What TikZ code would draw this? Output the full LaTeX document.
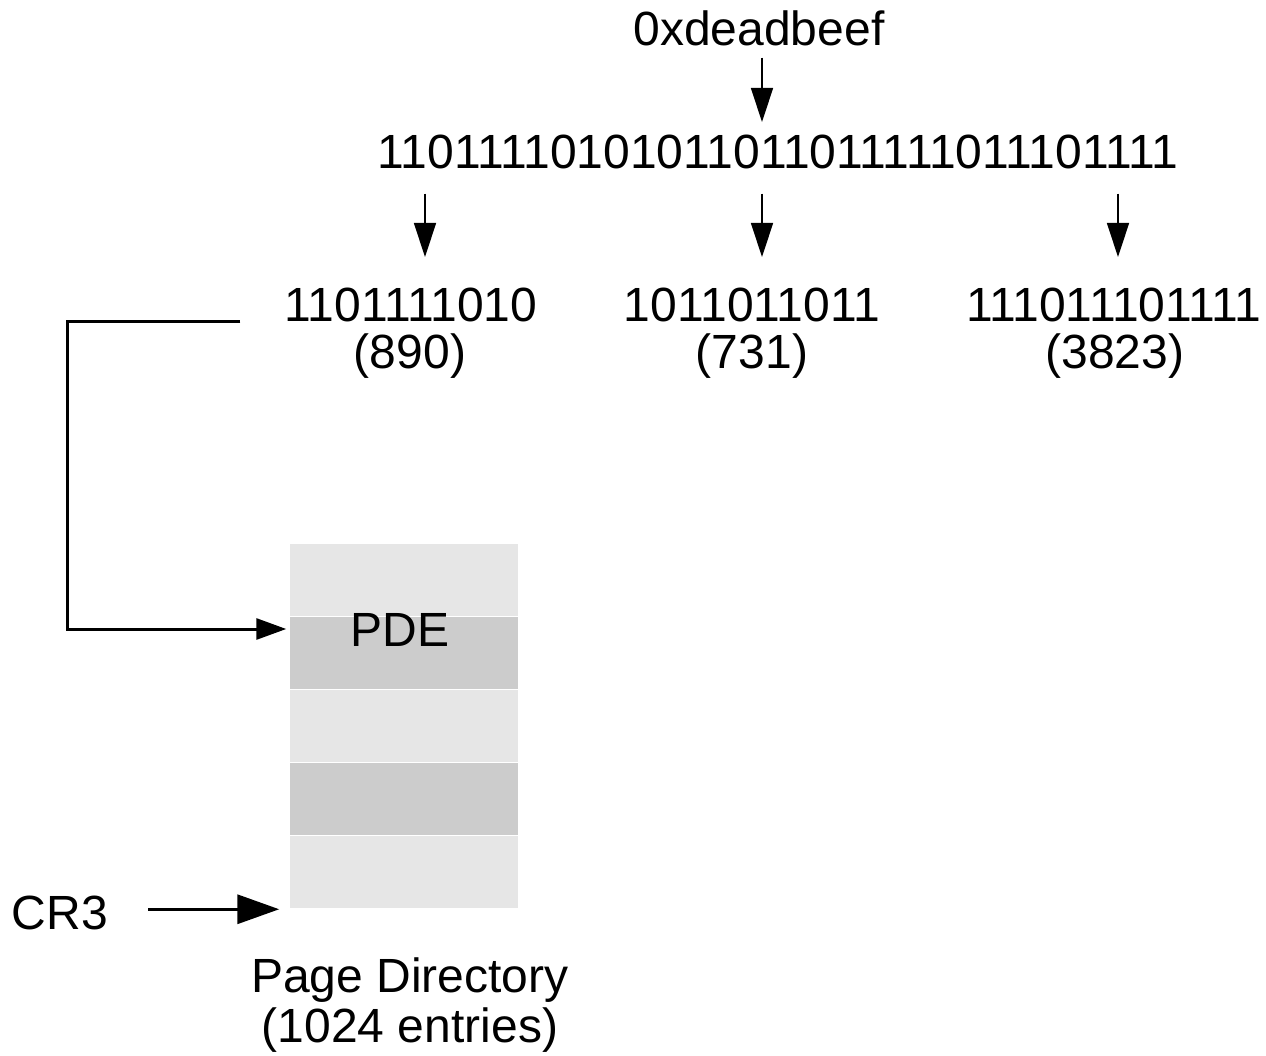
\documentclass[tikz,border=0pt]{standalone}
\usepackage{fontspec}
\setmainfont{Liberation Sans}
\usetikzlibrary{arrows.meta}
\definecolor{rowlight}{HTML}{E6E6E6}
\definecolor{rowdark}{HTML}{CCCCCC}
\begin{document}
\begin{tikzpicture}[x=1pt,y=-1pt,
  every node/.style={font=\fontsize{48}{50}\selectfont, inner sep=0pt},
  lbl/.style={anchor=base},
  thinarrow/.style={line width=1.4pt, -{Triangle[length=34pt,width=22pt]}},
  thickarrow/.style={line width=3pt, -{Triangle[length=30pt,width=21pt]}},
  bigarrow/.style={line width=3.5pt, -{Triangle[length=42pt,width=29pt]}},
  entry/.style={draw=white, line width=1.5pt, minimum width=230pt, minimum height=73pt},
  lightrow/.style={entry, fill=rowlight},
  darkrow/.style={entry, fill=rowdark}]
\useasboundingbox (0,0) rectangle (1266,1056);

% virtual address and its bits
\node[lbl] (hex) at (759,46) {0xdeadbeef};
\node[lbl] (bin) at (778,169) {11011110101011011011111011101111};

% the three fields of the address
\node[lbl] (dirbits) at (411,322) {1101111010};
\node[lbl] (dirnum)  at (410,369) {(890)};
\node[lbl] (tblbits) at (752,322) {1011011011};
\node[lbl] (tblnum)  at (752,369) {(731)};
\node[lbl] (offbits) at (1114,322) {111011101111};
\node[lbl] (offnum)  at (1115,369) {(3823)};

\draw[thinarrow] (hex.south -| 762,0) ++(0,11) -- (762,122);
\draw[thinarrow] (bin.south -| 425,0) ++(0,24) -- (425,257);
\draw[thinarrow] (bin.south -| 762,0) ++(0,24) -- (762,257);
\draw[thinarrow] (bin.south -| 1118,0) ++(0,24) -- (1118,257);

% page directory entries
\node[lightrow] (row1) at (404,580) {};
\node[darkrow]  (row2) at (404,653) {};
\node[lightrow] (row3) at (404,726) {};
\node[darkrow]  (row4) at (404,799) {};
\node[lightrow] (row5) at (404,872) {};
\node[lbl] (pde) at (400,646) {PDE};

\node[lbl] (pdname)  at (410,992) {Page Directory};
\node[lbl] (pdcount) at (410,1042) {(1024 entries)};

% directory index selects the entry
\draw[thickarrow, shorten >=2pt]
  ([xshift=-44pt]dirbits.base west) -- ++(-173,0) |- ([yshift=24pt]row2.west);

% CR3 points at the base of the directory
\node[lbl] (cr3) at (60,929) {CR3};
\draw[bigarrow, shorten >=9pt]
  ([xshift=40pt]cr3.east |- row5.south west) -- (row5.south west);
\end{tikzpicture}
\end{document}
